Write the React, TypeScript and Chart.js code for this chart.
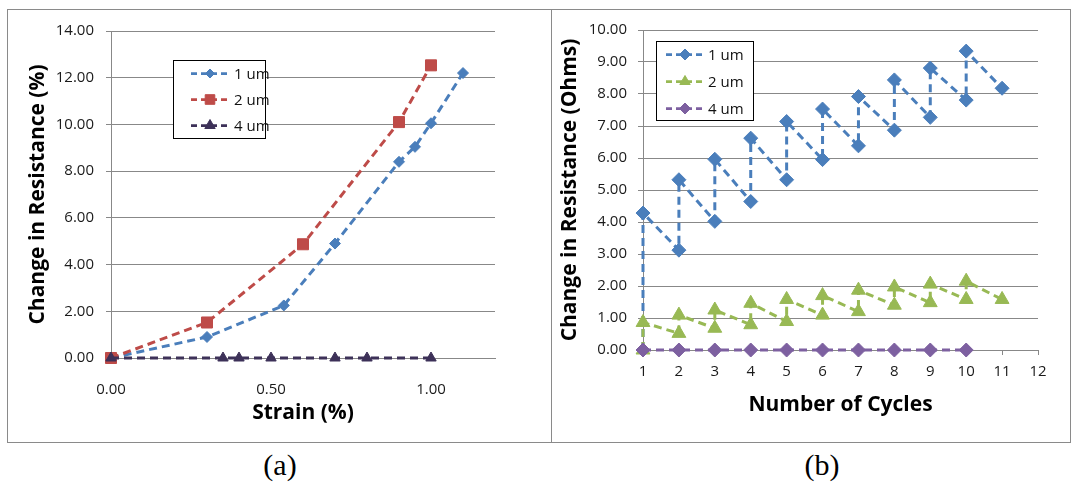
import React, { useEffect, useRef } from 'react';
import { Chart, registerables } from 'chart.js';

Chart.register(...registerables);

// ---------- (a) Change in resistance vs. strain ----------
const strain1um = [0, 0.3, 0.54, 0.7, 0.9, 0.95, 1.0, 1.1];
const resist1um = [0, 0.9, 2.25, 4.9, 8.4, 9.04, 10.05, 12.2];
const strain2um = [0, 0.3, 0.6, 0.9, 1.0];
const resist2um = [0, 1.52, 4.87, 10.1, 12.53];
const strain4um = [0, 0.35, 0.4, 0.5, 0.7, 0.8, 1.0];
const resist4um = [0, 0, 0, 0, 0, 0, 0];
const strainTicks = [0, 0.5, 1.0];

// ---------- (b) Change in resistance vs. number of cycles ----------
const cycles1um = [1, 1, 2, 2, 3, 3, 4, 4, 5, 5, 6, 6, 7, 7, 8, 8, 9, 9, 10, 10, 11];
const ohms1um = [0, 4.28, 3.12, 5.32, 4.02, 5.96, 4.64, 6.62, 5.32, 7.14, 5.95, 7.53, 6.38, 7.92, 6.87, 8.44, 7.27, 8.81, 7.81, 9.34, 8.18];
const cycles2um = [1, 1, 2, 2, 3, 3, 4, 4, 5, 5, 6, 6, 7, 7, 8, 8, 9, 9, 10, 10, 11];
const ohms2um = [0, 0.86, 0.52, 1.09, 0.68, 1.25, 0.79, 1.46, 0.89, 1.58, 1.09, 1.7, 1.2, 1.87, 1.4, 1.97, 1.48, 2.06, 1.58, 2.15, 1.58];
const cycles4um = [1, 2, 3, 4, 5, 6, 7, 8, 9, 10];
const ohms4um = [0, 0, 0, 0, 0, 0, 0, 0, 0, 0];

const seriesLabels = ['1 um', '2 um', '4 um'];

const FONT = "'Open Sans', 'Noto Sans', sans-serif";
const GRID = '#888888';
const TICK_TEXT = '#1a1a1a';

function series(label: string, xs: number[], ys: number[], color: string, style: string, radius: number, order: number) {
  return {
    label,
    data: xs.map((x, i) => ({ x, y: ys[i] })),
    borderColor: color,
    backgroundColor: color,
    pointBackgroundColor: color,
    pointBorderColor: color,
    pointBorderWidth: 1,
    pointStyle: style,
    pointRadius: radius,
    borderWidth: 3,
    borderDash: [8, 5],
    tension: 0,
    clip: false,
    order,
  };
}

function drawMarker(ctx: CanvasRenderingContext2D, style: string, x: number, y: number, r: number, color: string) {
  ctx.beginPath();
  if (style === 'rect') {
    const s = r * Math.SQRT1_2;
    ctx.rect(x - s, y - s, 2 * s, 2 * s);
  } else if (style === 'triangle') {
    const h = Math.sin(Math.PI / 3) * r;
    ctx.moveTo(x, y - r);
    ctx.lineTo(x + h, y + r / 2);
    ctx.lineTo(x - h, y + r / 2);
    ctx.closePath();
  } else {
    ctx.moveTo(x, y - r);
    ctx.lineTo(x + r, y);
    ctx.lineTo(x, y + r);
    ctx.lineTo(x - r, y);
    ctx.closePath();
  }
  ctx.fillStyle = color;
  ctx.strokeStyle = color;
  ctx.lineWidth = 1;
  ctx.fill();
  ctx.stroke();
}

// Boxed legend placed inside the plot area
const boxLegend = {
  id: 'boxLegend',
  afterDatasetsDraw(chart: any, _args: any, opts: any) {
    const ctx: CanvasRenderingContext2D = chart.ctx;
    ctx.save();
    ctx.fillStyle = '#ffffff';
    ctx.fillRect(opts.x, opts.y, opts.w, opts.h);
    ctx.strokeStyle = '#000000';
    ctx.lineWidth = 1;
    ctx.strokeRect(opts.x + 0.5, opts.y + 0.5, opts.w - 1, opts.h - 1);
    chart.data.datasets.forEach((ds: any, i: number) => {
      const y = opts.rows[i];
      ctx.save();
      ctx.strokeStyle = ds.borderColor;
      ctx.lineWidth = 2.75;
      ctx.setLineDash(opts.dash);
      ctx.beginPath();
      ctx.moveTo(opts.lineFrom, y);
      ctx.lineTo(opts.lineTo, y);
      ctx.stroke();
      ctx.restore();
      drawMarker(ctx, ds.pointStyle, opts.markerX, y, opts.radii[i], ds.pointBackgroundColor);
      ctx.fillStyle = '#111111';
      ctx.font = `15px ${FONT}`;
      ctx.textAlign = 'left';
      ctx.textBaseline = 'middle';
      ctx.fillText(ds.label, opts.textX, y + 1);
    });
    ctx.restore();
  },
};

function fixed2(v: any) {
  return Number(v).toFixed(2);
}

function strainConfig(): any {
  return {
    type: 'line',
    data: {
      datasets: [
        series(seriesLabels[0], strain1um, resist1um, '#4A7EBB', 'rectRot', 5.5, 2),
        series(seriesLabels[1], strain2um, resist2um, '#BE4B48', 'rect', 7.8, 1),
        series(seriesLabels[2], strain4um, resist4um, '#3D3158', 'triangle', 6, 0),
      ],
    },
    plugins: [boxLegend],
    options: {
      responsive: false,
      animation: false,
      layout: { padding: { left: 0, top: 20, right: 56, bottom: 0 } },
      plugins: {
        legend: { display: false },
        tooltip: { enabled: false },
        boxLegend: {
          x: 165, y: 50, w: 93, h: 79,
          rows: [63.5, 89.5, 115.5],
          lineFrom: 183, lineTo: 220, markerX: 202, textX: 226,
          radii: [4.5, 6.8, 6],
          dash: [6, 4],
        },
      },
      scales: {
        x: {
          type: 'linear',
          min: 0,
          max: 1.2,
          afterBuildTicks: (s: any) => {
            s.ticks = strainTicks.map((v) => ({ value: v }));
          },
          afterFit: (s: any) => {
            s.height = 84;
          },
          grid: { display: false },
          border: { display: true, color: GRID, width: 1 },
          ticks: { padding: 15, color: TICK_TEXT, font: { family: FONT, size: 15 }, callback: fixed2, maxRotation: 0 },
          title: {
            display: true,
            text: 'Strain (%)',
            color: '#000',
            font: { family: FONT, size: 21, weight: 'bold' },
            padding: { top: 0, bottom: 16 },
          },
        },
        y: {
          type: 'linear',
          min: 0,
          max: 14,
          afterFit: (s: any) => {
            s.width = 103;
          },
          grid: { color: GRID, lineWidth: 1, drawTicks: true, tickLength: 5 },
          border: { display: true, color: GRID, width: 1 },
          ticks: { stepSize: 2, padding: 12, color: TICK_TEXT, font: { family: FONT, size: 15 }, callback: fixed2 },
          title: {
            display: true,
            text: 'Change in Resistance (%)',
            color: '#000',
            font: { family: FONT, size: 21, weight: 'bold' },
            padding: { top: 17, bottom: 0 },
          },
        },
      },
    },
  };
}

function cyclesConfig(): any {
  return {
    type: 'line',
    data: {
      datasets: [
        series(seriesLabels[0], cycles1um, ohms1um, '#4A7EBB', 'rectRot', 7, 2),
        series(seriesLabels[1], cycles2um, ohms2um, '#98B954', 'triangle', 8, 1),
        series(seriesLabels[2], cycles4um, ohms4um, '#7D60A0', 'rectRot', 7, 0),
      ],
    },
    plugins: [boxLegend],
    options: {
      responsive: false,
      animation: false,
      layout: { padding: { left: 0, top: 20, right: 32, bottom: 0 } },
      plugins: {
        legend: { display: false },
        tooltip: { enabled: false },
        boxLegend: {
          x: 104, y: 31, w: 98, h: 80,
          rows: [44.5, 71.5, 98.5],
          lineFrom: 114, lineTo: 150, markerX: 133, textX: 156,
          radii: [5.5, 6, 5.5],
          dash: [6, 4],
        },
      },
      scales: {
        x: {
          type: 'linear',
          min: 1,
          max: 12,
          afterFit: (s: any) => {
            s.height = 92;
          },
          grid: { display: true, drawOnChartArea: false, drawTicks: true, tickLength: 5, color: GRID },
          border: { display: true, color: GRID, width: 1 },
          ticks: { stepSize: 1, padding: 8, color: TICK_TEXT, font: { family: FONT, size: 15 }, maxRotation: 0 },
          title: {
            display: true,
            text: 'Number of Cycles',
            color: '#000',
            font: { family: FONT, size: 21, weight: 'bold' },
            padding: { top: 0, bottom: 24 },
          },
        },
        y: {
          type: 'linear',
          min: 0,
          max: 10,
          afterFit: (s: any) => {
            s.width = 91;
          },
          grid: { color: GRID, lineWidth: 1, drawTicks: true, tickLength: 5 },
          border: { display: true, color: GRID, width: 1 },
          ticks: { stepSize: 1, padding: 11, color: TICK_TEXT, font: { family: FONT, size: 15 }, callback: fixed2 },
          title: {
            display: true,
            text: 'Change in Resistance (Ohms)',
            color: '#000',
            font: { family: FONT, size: 21, weight: 'bold' },
            padding: { top: 5, bottom: 0 },
          },
        },
      },
    },
  };
}

function Panel(props: { left: number; width: number; config: () => any; caption: string; captionX: number }) {
  const ref = useRef<HTMLCanvasElement | null>(null);
  useEffect(() => {
    if (!ref.current) return;
    const chart = new Chart(ref.current, props.config());
    return () => chart.destroy();
  }, []);
  return (
    <>
      <div
        style={{
          position: 'absolute',
          left: props.left,
          top: 9,
          width: props.width,
          height: 434,
          boxSizing: 'border-box',
          border: '1px solid #8a8a8a',
          background: '#fff',
        }}
      >
        <canvas ref={ref} width={props.width - 2} height={432} style={{ display: 'block', width: props.width - 2, height: 432 }} />
      </div>
      <div
        style={{
          position: 'absolute',
          left: props.captionX - 60,
          width: 120,
          top: 449,
          lineHeight: '32px',
          textAlign: 'center',
          fontFamily: "'Liberation Serif', 'Times New Roman', serif",
          fontSize: 30,
          color: '#000',
        }}
      >
        {props.caption}
      </div>
    </>
  );
}

export default function App() {
  return (
    <div style={{ position: 'fixed', left: 0, top: 0, width: 1071, height: 483, background: '#fff', overflow: 'hidden' }}>
      <Panel left={7} width={545} config={strainConfig} caption="(a)" captionX={280} />
      <Panel left={551} width={520} config={cyclesConfig} caption="(b)" captionX={822} />
    </div>
  );
}
